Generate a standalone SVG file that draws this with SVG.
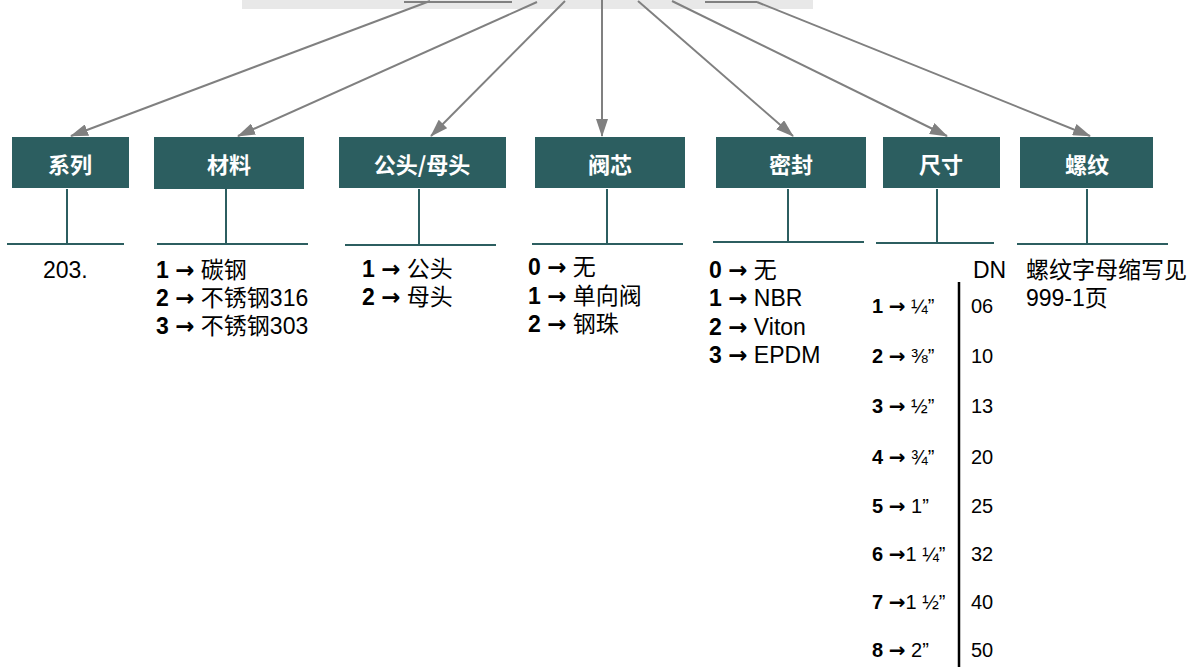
<svg xmlns="http://www.w3.org/2000/svg" width="1200" height="667" viewBox="0 0 1200 667">
<style>
.box{fill:#2c5e60}
.bt{fill:#fff;font-family:"Noto Sans CJK SC","Liberation Sans",sans-serif;font-size:22px;font-weight:bold;text-anchor:middle;dominant-baseline:central}
.stem{stroke:#2c5e60;stroke-width:2;fill:none}
.conn{stroke:#808080;stroke-width:2;fill:none}
.t{font-family:"Liberation Sans","Noto Sans CJK SC",sans-serif;font-size:23px;fill:#000}
.s{font-family:"Liberation Sans","Noto Sans CJK SC",sans-serif;font-size:20px;fill:#000}
.b{font-weight:bold}
.a{font-family:"DejaVu Sans",sans-serif;font-weight:bold}
</style>
<defs>
<marker id="ah" viewBox="0 0 18 12" refX="17" refY="6" markerWidth="18" markerHeight="12" markerUnits="userSpaceOnUse" orient="auto">
<path d="M0,0 L18,6 L0,12 z" fill="#808080"/>
</marker>
</defs>
<rect x="242" y="0" width="571" height="9" fill="#e8e8e8"/>
<g id="connectors">
<line class="conn" x1="404" y1="2" x2="512" y2="2"/>
<line class="conn" x1="705" y1="2" x2="757" y2="2"/>
<line class="conn" x1="430" y1="1" x2="71" y2="136" marker-end="url(#ah)"/>
<line class="conn" x1="537" y1="2" x2="238" y2="136" marker-end="url(#ah)"/>
<line class="conn" x1="565" y1="1" x2="431" y2="136" marker-end="url(#ah)"/>
<line class="conn" x1="602" y1="0" x2="602" y2="136" marker-end="url(#ah)"/>
<line class="conn" x1="638" y1="1" x2="793" y2="136" marker-end="url(#ah)"/>
<line class="conn" x1="672" y1="1" x2="947" y2="136" marker-end="url(#ah)"/>
<line class="conn" x1="757" y1="2" x2="1090" y2="136" marker-end="url(#ah)"/>
</g>
<g id="series">
<rect class="box" x="12" y="137" width="117" height="51"/>
<text class="bt" x="70" y="163">系列</text>
<path class="stem" d="M67,189 V244 M7,244 H124"/>
<text class="t" x="43" y="278">203.</text>
</g>
<g id="material">
<rect class="box" x="154" y="137" width="150" height="52"/>
<text class="bt" x="229" y="163">材料</text>
<path class="stem" d="M226,189 V244 M157,244 H308"/>
<text class="t" x="156" y="278"><tspan class="b">1</tspan> <tspan class="a">→</tspan> 碳钢</text>
<text class="t" x="156" y="306"><tspan class="b">2</tspan> <tspan class="a">→</tspan> 不锈钢316</text>
<text class="t" x="156" y="334"><tspan class="b">3</tspan> <tspan class="a">→</tspan> 不锈钢303</text>
</g>
<g id="gender">
<rect class="box" x="339" y="137" width="167" height="51"/>
<text class="bt" x="422" y="163">公头/母头</text>
<path class="stem" d="M419,189 V245 M345,245 H496"/>
<text class="t" x="362" y="277"><tspan class="b">1</tspan> <tspan class="a">→</tspan> 公头</text>
<text class="t" x="362" y="305"><tspan class="b">2</tspan> <tspan class="a">→</tspan> 母头</text>
</g>
<g id="valve">
<rect class="box" x="535" y="137" width="150" height="51"/>
<text class="bt" x="610" y="163">阀芯</text>
<path class="stem" d="M607,189 V244 M532,244 H683"/>
<text class="t" x="528" y="275"><tspan class="b">0</tspan> <tspan class="a">→</tspan> 无</text>
<text class="t" x="528" y="304"><tspan class="b">1</tspan> <tspan class="a">→</tspan> 单向阀</text>
<text class="t" x="528" y="332"><tspan class="b">2</tspan> <tspan class="a">→</tspan> 钢珠</text>
</g>
<g id="seal">
<rect class="box" x="716" y="137" width="150" height="51"/>
<text class="bt" x="791" y="163">密封</text>
<path class="stem" d="M788,189 V242 M713,242 H864"/>
<text class="t" x="709" y="278"><tspan class="b">0</tspan> <tspan class="a">→</tspan> 无</text>
<text class="t" x="709" y="306"><tspan class="b">1</tspan> <tspan class="a">→</tspan> NBR</text>
<text class="t" x="709" y="335"><tspan class="b">2</tspan> <tspan class="a">→</tspan> Viton</text>
<text class="t" x="709" y="363"><tspan class="b">3</tspan> <tspan class="a">→</tspan> EPDM</text>
</g>
<g id="size">
<rect class="box" x="883" y="137" width="117" height="51"/>
<text class="bt" x="941" y="163">尺寸</text>
<path class="stem" d="M937,189 V243 M876,243 H994"/>
<text class="t" x="973" y="278">DN</text>
<line x1="959" y1="282" x2="959" y2="667" stroke="#000" stroke-width="2.5"/>
<text class="s" x="872" y="313"><tspan class="b">1</tspan> <tspan class="a">→</tspan> ¼”</text>
<text class="s" x="872" y="363"><tspan class="b">2</tspan> <tspan class="a">→</tspan> ⅜”</text>
<text class="s" x="872" y="413"><tspan class="b">3</tspan> <tspan class="a">→</tspan> ½”</text>
<text class="s" x="872" y="464"><tspan class="b">4</tspan> <tspan class="a">→</tspan> ¾”</text>
<text class="s" x="872" y="513"><tspan class="b">5</tspan> <tspan class="a">→</tspan>  1”</text>
<text class="s" x="872" y="561"><tspan class="b">6</tspan> <tspan class="a">→</tspan>1 ¼”</text>
<text class="s" x="872" y="609"><tspan class="b">7</tspan> <tspan class="a">→</tspan>1 ½”</text>
<text class="s" x="872" y="657"><tspan class="b">8</tspan> <tspan class="a">→</tspan> 2”</text>
<text class="s" x="971" y="313">06</text>
<text class="s" x="971" y="363">10</text>
<text class="s" x="971" y="413">13</text>
<text class="s" x="971" y="464">20</text>
<text class="s" x="971" y="513">25</text>
<text class="s" x="971" y="561">32</text>
<text class="s" x="971" y="609">40</text>
<text class="s" x="971" y="657">50</text>
</g>
<g id="thread">
<rect class="box" x="1020" y="137" width="133" height="51"/>
<text class="bt" x="1087" y="163">螺纹</text>
<path class="stem" d="M1087,189 V244 M1017,244 H1168"/>
<text class="t" x="1026" y="278">螺纹字母缩写见</text>
<text class="t" x="1026" y="306">999-1页</text>
</g>
</svg>
